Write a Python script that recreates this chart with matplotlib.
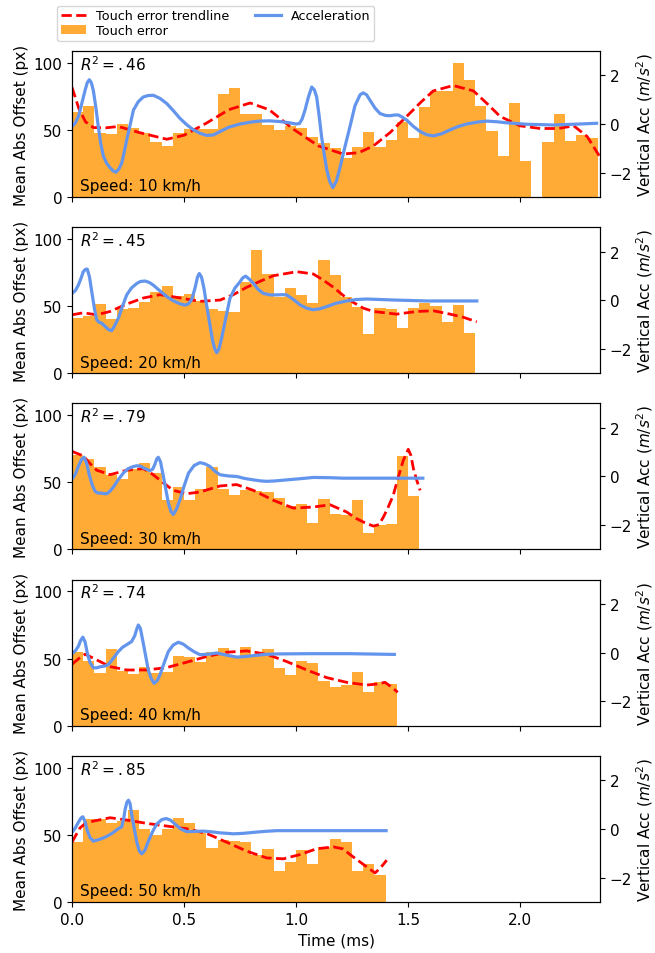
import numpy as np
from matplotlib import pyplot as plt
from matplotlib.patches import Patch
from matplotlib.lines import Line2D

plt.rcParams["font.size"] = 11

BIN_WIDTH = 0.05
SPEEDS = [10, 20, 30, 40, 50]
R2_LABELS = [".46", ".45", ".79", ".74", ".85"]

# touch error per 0.05 ms bin (px)
error_10 = [63, 68, 48, 46.8, 54, 51, 48, 41, 38, 47.5, 50.5, 50.5, 50.5, 76.6, 81,
            61.7, 61.7, 53.7, 50, 52.5, 51.7, 44.3, 40.5, 36.8, 29.4, 37.3, 48.5, 37.3,
            42.5, 56, 43.8, 67, 79, 79, 99.8, 87, 68, 49, 30.6, 70, 27, 0, 41, 61.7,
            41.8, 46, 43.8]
error_20 = [41, 42.8, 51.5, 40.3, 47.8, 48.5, 52.7, 60.2, 65.2, 57.7, 59, 54, 47.8, 46,
            45.3, 67.7, 91.8, 73.9, 56.5, 63.4, 58.5, 52.2, 84.3, 73.1, 56.5, 49.5, 29.1,
            48.5, 47.8, 33.6, 48.5, 52.2, 50.2, 38, 50.7, 30.3]
error_30 = [70, 67, 61.4, 55.2, 52.7, 60.2, 64.7, 57.2, 36.6, 46.5, 37.1, 45.3, 61.4,
            45.3, 40.3, 44, 43.3, 42.8, 38.6, 32.3, 34.1, 19.9, 37.8, 26.6, 25.9, 37.1,
            12.4, 18.4, 19.2, 69.7, 39.6]
error_40 = [54.7, 48.3, 39, 57, 40.8, 38.6, 44, 39, 39.8, 52.2, 51.5, 47.3, 55.2, 58.2,
            51, 58.5, 52.2, 57, 42.8, 37.8, 48, 46.5, 33.3, 28.6, 30.3, 39.8, 24.9, 32.8,
            30.8]
error_50 = [44.8, 61.4, 61.4, 58.5, 60.2, 68.4, 54.5, 50.2, 54.5, 62.7, 59, 51, 40.3, 46,
            45.3, 44.8, 35.3, 39.6, 22.9, 29.9, 38.6, 28.4, 40.8, 47, 44.5, 23.4, 28.4,
            19.7]

# trendline samples (time ms, px)
trend_t_10 = [0, 0.03, 0.06, 0.095, 0.15, 0.207, 0.3, 0.423, 0.5, 0.6, 0.7, 0.795, 0.88,
              0.988, 1.1, 1.21, 1.28, 1.345, 1.42, 1.494, 1.56, 1.613, 1.702, 1.792, 1.85,
              1.911, 2.0, 2.09, 2.17, 2.24, 2.3, 2.354]
trend_v_10 = [81.6, 66, 56, 51.7, 51.5, 52.5, 48, 43, 46, 55, 65, 70, 65, 50.5, 38, 32,
              33, 38, 48, 60, 71, 79, 83, 79, 70, 60, 53, 51, 51, 53, 45, 30.6]
trend_t_20 = [0, 0.05, 0.11, 0.17, 0.244, 0.318, 0.393, 0.467, 0.571, 0.661, 0.72, 0.78,
              0.84, 0.899, 1.003, 1.077, 1.12, 1.167, 1.21, 1.256, 1.3, 1.345, 1.449,
              1.539, 1.613, 1.688, 1.75, 1.807]
trend_v_20 = [43.5, 45, 43.5, 46, 51.5, 56, 58.5, 56.5, 53.5, 54.5, 58.5, 64, 68.5, 72.6,
              75.6, 73.9, 69.5, 64, 58, 52.7, 48.5, 46, 44, 46, 46.5, 44, 41.5, 38.3]
trend_t_30 = [0, 0.05, 0.08, 0.11, 0.17, 0.244, 0.318, 0.36, 0.393, 0.452, 0.512, 0.571,
              0.661, 0.735, 0.81, 0.899, 0.988, 1.077, 1.152, 1.226, 1.27, 1.301, 1.345,
              1.37, 1.39, 1.41, 1.434, 1.455, 1.479, 1.501, 1.513, 1.524, 1.54, 1.554]
trend_v_30 = [73, 69.7, 64, 59, 55.7, 59, 60.2, 56, 51.5, 44, 41.5, 42.8, 47.3, 48.3, 44,
              36.6, 30.8, 31.6, 33.3, 27.9, 23, 20.4, 17.4, 18.5, 24.1, 31, 40.3, 53,
              66.4, 74.6, 70, 60.2, 51, 44]
trend_t_40 = [0, 0.03, 0.058, 0.08, 0.11, 0.17, 0.244, 0.333, 0.423, 0.512, 0.601, 0.69,
              0.78, 0.869, 0.958, 1.048, 1.137, 1.226, 1.315, 1.36, 1.397, 1.425, 1.454]
trend_v_40 = [45.8, 50, 53.2, 51.5, 49, 44, 41.5, 41.5, 43.3, 47.3, 51.5, 54.7, 55.7,
              53.2, 47.8, 41.5, 35.8, 32.3, 30.3, 31, 32.3, 29, 24.9]
trend_t_50 = [0, 0.018, 0.036, 0.06, 0.095, 0.17, 0.244, 0.333, 0.423, 0.512, 0.601,
              0.69, 0.78, 0.869, 0.943, 1.018, 1.092, 1.167, 1.21, 1.241, 1.301, 1.353,
              1.38, 1.405]
trend_v_50 = [44.5, 50, 55.2, 58.5, 60.2, 62.7, 61, 58.5, 56.5, 54.5, 51, 44.5, 37.8,
              32.8, 32.1, 35.3, 39.6, 41, 39.5, 35.3, 27.9, 21.6, 26, 31.1]

# vertical acceleration samples (time ms, m/s^2)
acc_t_10 = [0, 0.015, 0.03, 0.045, 0.058, 0.068, 0.077, 0.086, 0.095, 0.106, 0.117,
            0.128, 0.14, 0.155, 0.17, 0.184, 0.196, 0.209, 0.222, 0.233, 0.244, 0.259,
            0.274, 0.296, 0.318, 0.34, 0.363, 0.393, 0.423, 0.452, 0.482, 0.512, 0.542,
            0.571, 0.601, 0.631, 0.661, 0.7, 0.75, 0.8, 0.839, 0.88, 0.929, 0.97, 1.0,
            1.015, 1.027, 1.04, 1.055, 1.07, 1.082, 1.092, 1.103, 1.114, 1.125, 1.137,
            1.15, 1.164, 1.18, 1.196, 1.218, 1.241, 1.263, 1.286, 1.30, 1.315, 1.33,
            1.353, 1.375, 1.4, 1.42, 1.44, 1.457, 1.475, 1.494, 1.524, 1.554, 1.583,
            1.613, 1.65, 1.688, 1.725, 1.762, 1.81, 1.851, 1.9, 1.94, 2.03, 2.149, 2.268,
            2.342]
acc_v_10 = [-0.1, 0.05, 0.35, 0.9, 1.38, 1.7, 1.82, 1.7, 1.38, 0.7, -0.1, -0.8, -1.33,
            -1.62, -1.8, -1.93, -1.98, -1.85, -1.6, -1.15, -0.65, -0.05, 0.57, 0.92, 1.11,
            1.17, 1.18, 1.05, 0.84, 0.55, 0.23, -0.03, -0.24, -0.38, -0.47, -0.45, -0.31,
            -0.13, 0, 0.08, 0.12, 0.13, 0.1, 0.05, 0, 0.02, 0.2, 0.57, 1.1, 1.52, 1.4,
            1.11, 0.35, -0.52, -1.2, -1.87, -2.35, -2.62, -2.35, -1.8, -0.95, -0.1, 0.75,
            1.2, 1.28, 1.2, 0.98, 0.65, 0.43, 0.35, 0.34, 0.37, 0.37, 0.28, 0.16, -0.1,
            -0.31, -0.44, -0.49, -0.4, -0.24, -0.1, 0, 0.08, 0.12, 0.09, 0.05, -0.01,
            -0.04, 0, 0.03]
acc_t_20 = [0, 0.015, 0.028, 0.04, 0.05, 0.06, 0.068, 0.078, 0.088, 0.1, 0.11, 0.12,
            0.132, 0.145, 0.155, 0.166, 0.177, 0.19, 0.207, 0.225, 0.244, 0.265, 0.289,
            0.305, 0.326, 0.345, 0.363, 0.393, 0.423, 0.452, 0.482, 0.505, 0.52, 0.535,
            0.549, 0.56, 0.568, 0.578, 0.589, 0.598, 0.608, 0.618, 0.628, 0.637, 0.646,
            0.656, 0.668, 0.686, 0.705, 0.727, 0.75, 0.762, 0.775, 0.79, 0.81, 0.83,
            0.854, 0.884, 0.914, 0.94, 0.958, 0.99, 1.018, 1.048, 1.077, 1.107, 1.137,
            1.18, 1.226, 1.27, 1.315, 1.434, 1.583, 1.807]
acc_v_20 = [0.28, 0.4, 0.62, 0.9, 1.17, 1.27, 1.28, 0.95, 0.35, -0.35, -0.8, -0.9, -0.94,
            -1.05, -1.14, -1.22, -1.25, -1.05, -0.73, -0.25, 0.22, 0.5, 0.69, 0.77, 0.79,
            0.73, 0.62, 0.38, 0.15, -0.02, -0.15, -0.2, -0.15, 0.05, 0.5, 0.95, 1.1, 0.95,
            0.49, -0.05, -0.6, -1.15, -1.68, -2.0, -2.16, -2.0, -1.55, -0.75, 0.08, 0.5,
            0.76, 0.92, 0.99, 0.88, 0.69, 0.45, 0.28, 0.22, 0.22, 0.23, 0.22, 0.02, -0.19,
            -0.33, -0.39, -0.35, -0.26, -0.12, -0.03, 0.03, 0.05, 0.01, -0.03, -0.03]
acc_t_30 = [0, 0.015, 0.028, 0.042, 0.054, 0.065, 0.077, 0.09, 0.103, 0.115, 0.125, 0.14,
            0.155, 0.17, 0.185, 0.207, 0.229, 0.25, 0.274, 0.29, 0.304, 0.326, 0.348,
            0.36, 0.37, 0.378, 0.385, 0.395, 0.408, 0.42, 0.43, 0.442, 0.452, 0.466,
            0.482, 0.5, 0.52, 0.545, 0.571, 0.593, 0.616, 0.64, 0.661, 0.7, 0.735, 0.77,
            0.81, 0.84, 0.869, 0.91, 0.958, 1.02, 1.077, 1.15, 1.21, 1.36, 1.566]
acc_v_30 = [-0.11, 0.1, 0.41, 0.7, 0.79, 0.55, 0.07, -0.35, -0.61, -0.68, -0.68, -0.7,
            -0.71, -0.6, -0.43, -0.12, 0.14, 0.32, 0.41, 0.44, 0.43, 0.32, 0.24, 0.3, 0.5,
            0.72, 0.79, 0.6, 0, -0.6, -1.09, -1.45, -1.56, -1.35, -0.95, -0.4, 0.14, 0.45,
            0.57, 0.52, 0.41, 0.2, 0.07, 0.02, 0, -0.08, -0.14, -0.18, -0.2, -0.18, -0.14,
            -0.09, -0.04, -0.05, -0.07, -0.07, -0.07]
acc_t_40 = [0, 0.015, 0.028, 0.038, 0.048, 0.058, 0.068, 0.08, 0.095, 0.11, 0.125, 0.145,
            0.162, 0.185, 0.207, 0.225, 0.244, 0.266, 0.28, 0.29, 0.296, 0.305, 0.318,
            0.33, 0.34, 0.353, 0.366, 0.38, 0.393, 0.41, 0.43, 0.452, 0.475, 0.497, 0.52,
            0.545, 0.571, 0.61, 0.646, 0.69, 0.735, 0.77, 0.81, 0.86, 0.914, 1.063, 1.241,
            1.439]
acc_v_40 = [-0.04, 0.08, 0.26, 0.5, 0.64, 0.45, -0.01, -0.4, -0.62, -0.62, -0.58, -0.55,
            -0.49, -0.22, 0.05, 0.22, 0.33, 0.46, 0.7, 1.0, 1.14, 1.0, 0.39, -0.2, -0.69,
            -1.05, -1.26, -1.15, -0.9, -0.45, 0.05, 0.32, 0.43, 0.35, 0.19, 0.04, -0.08,
            -0.06, -0.01, -0.1, -0.18, -0.16, -0.12, -0.07, -0.05, -0.04, -0.04, -0.07]
acc_t_50 = [0, 0.015, 0.028, 0.04, 0.048, 0.058, 0.068, 0.08, 0.095, 0.115, 0.14, 0.162,
            0.185, 0.205, 0.222, 0.23, 0.237, 0.245, 0.252, 0.259, 0.266, 0.278, 0.289,
            0.3, 0.311, 0.325, 0.341, 0.36, 0.378, 0.4, 0.42, 0.44, 0.46, 0.485, 0.512,
            0.55, 0.586, 0.625, 0.661, 0.72, 0.765, 0.81, 0.86, 0.914, 1.107, 1.402]
acc_v_50 = [-0.14, 0.05, 0.27, 0.45, 0.5, 0.3, -0.07, -0.35, -0.5, -0.45, -0.37, -0.27,
            -0.14, 0, 0.09, 0.4, 0.81, 1.1, 1.18, 1.05, 0.61, 0, -0.54, -0.9, -1.02, -0.88,
            -0.5, -0.1, 0.2, 0.38, 0.43, 0.36, 0.2, 0, -0.11, -0.1, -0.09, -0.12, -0.16,
            -0.2, -0.18, -0.14, -0.1, -0.07, -0.07, -0.07]

errors = [error_10, error_20, error_30, error_40, error_50]
trends = [(trend_t_10, trend_v_10), (trend_t_20, trend_v_20), (trend_t_30, trend_v_30),
          (trend_t_40, trend_v_40), (trend_t_50, trend_v_50)]
accs = [(acc_t_10, acc_v_10), (acc_t_20, acc_v_20), (acc_t_30, acc_v_30),
        (acc_t_40, acc_v_40), (acc_t_50, acc_v_50)]

BAR_COLOR = "#ffab36"
ACC_COLOR = "cornflowerblue"

fig, axes = plt.subplots(5, 1, figsize=(6.55, 9.54), dpi=100, sharex=True)
fig.subplots_adjust(left=0.110, right=0.916, top=0.9455, bottom=0.0535, hspace=0.207)

for i, ax in enumerate(axes):
    err = errors[i]
    left_edges = np.arange(len(err)) * BIN_WIDTH
    ax.bar(left_edges, err, width=BIN_WIDTH, align="edge", color=BAR_COLOR,
           linewidth=0)
    ax.plot(trends[i][0], trends[i][1], "--", color="red", linewidth=2)
    ax.set_ylim(0, 108.7)
    ax.set_xlim(0, 2.357)
    ax.set_yticks([0, 50, 100])
    ax.set_ylabel("Mean Abs Offset (px)", labelpad=3)
    ax.text(0.015, 0.915, r"$R^2 = %s$" % R2_LABELS[i], transform=ax.transAxes,
            ha="left", va="center")
    ax.text(0.015, 0.025, "Speed: %d km/h" % SPEEDS[i], transform=ax.transAxes,
            ha="left", va="bottom")

    ax2 = ax.twinx()
    ax2.plot(accs[i][0], accs[i][1], color=ACC_COLOR, linewidth=2.3)
    ax2.set_ylim(-3, 3)
    ax2.set_yticks([-2, 0, 2])
    ax2.set_ylabel("Vertical Acc ($m/s^2$)", labelpad=1.5)

axes[-1].set_xlabel("Time (ms)")
axes[-1].set_xticks([0, 0.5, 1.0, 1.5, 2.0])

handles = [Line2D([], [], color="red", linestyle="--", linewidth=2),
           Patch(facecolor=BAR_COLOR),
           Line2D([], [], color=ACC_COLOR, linewidth=2.3)]
labels = ["Touch error trendline", "Touch error", "Acceleration"]
fig.legend(handles, labels, ncol=2, loc="upper left", bbox_to_anchor=(0.087, 0.993),
           borderaxespad=0, fontsize="small", labelspacing=0.15, borderpad=0.3)

fig.savefig("out.png")
